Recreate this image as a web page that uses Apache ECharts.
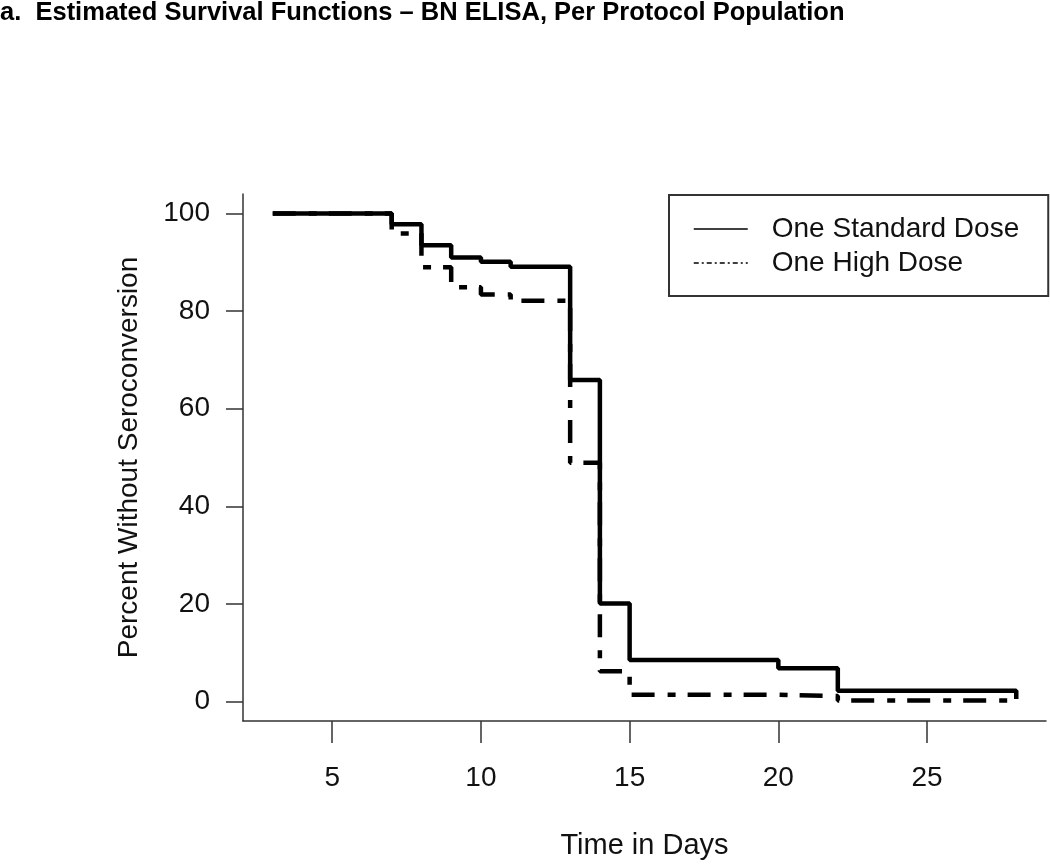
<!DOCTYPE html>
<html><head><meta charset="utf-8">
<script src="https://cdn.jsdelivr.net/npm/echarts@6/dist/echarts.min.js"></script>
<style>html,body{margin:0;padding:0;background:#fff}#c{width:1050px;height:865px}</style>
</head><body><div id="c"></div>
<script>
const titleText = 'a.  Estimated Survival Functions \u2013 BN ELISA, Per Protocol Population';
const seriesNames = ['One Standard Dose', 'One High Dose'];
const standardTimes = [3, 7, 8, 9, 10, 11, 13, 14, 15, 20, 22, 28];
const standardSurvival = [100, 97.8, 93.5, 91.0, 90.1, 89.1, 65.9, 20.1, 8.5, 6.8, 2.2, 0.5];
const highTimes = [3, 7, 8, 9, 10, 11, 13, 14, 15, 20, 22, 28];
const highSurvival = [100, 95.9, 89.0, 84.9, 83.4, 82.1, 48.9, 6.2, 1.4, 1.1, 0.2, 0.2];
const xTicks = [5, 10, 15, 20, 25];
const yTicks = [0, 20, 40, 60, 80, 100];

const pair = (xs, ys) => xs.map((x, i) => [x, ys[i]]);
const chart = echarts.init(document.getElementById('c'), null, {renderer: 'canvas'});
const font = "'Liberation Sans', Arial, sans-serif";
chart.setOption({
  animation: false,
  backgroundColor: '#fff',
  title: {
    text: titleText, left: 0, top: 0, padding: 0,
    textStyle: {fontFamily: font, fontSize: 25.5, fontWeight: 'bold', color: '#000'}
  },
  legend: {
    orient: 'vertical', left: 669, top: 195,
    padding: [20, 29, 19, 24],
    borderColor: '#333', borderWidth: 2, borderRadius: 0,
    itemWidth: 54, itemHeight: 14, itemGap: 6,
    textStyle: {fontFamily: font, fontSize: 28, lineHeight: 28, color: '#111', padding: [0, 0, 0, 19]},
    itemStyle: {opacity: 0, borderWidth: 0},
    lineStyle: {width: 1.5},
    data: [
      {name: seriesNames[0], itemStyle: {opacity: 0}, lineStyle: {width: 1.5, type: 'solid', color: '#000'}},
      {name: seriesNames[1], itemStyle: {opacity: 0}, lineStyle: {width: 1.5, type: [5, 3, 2, 3], color: '#000'}}
    ]
  },
  grid: {left: 243, right: 4, top: 194, bottom: 138, containLabel: false},
  xAxis: {
    type: 'value', min: 2, max: 29,
    name: 'Time in Days', nameLocation: 'middle', nameGap: 110,
    nameTextStyle: {fontFamily: font, fontSize: 29, color: '#111'},
    axisLine: {show: true, onZero: false, lineStyle: {color: '#333', width: 1.5}},
    axisTick: {show: true, inside: false, length: 22, customValues: xTicks, lineStyle: {color: '#333', width: 1.5}},
    axisLabel: {show: true, customValues: xTicks, margin: 43, fontFamily: font, fontSize: 28, color: '#111'},
    splitLine: {show: false}
  },
  yAxis: {
    type: 'value', min: -4, max: 104,
    name: 'Percent Without Seroconversion', nameLocation: 'middle', nameGap: 100, nameRotate: 90,
    nameTextStyle: {fontFamily: font, fontSize: 28, color: '#111'},
    axisLine: {show: true, onZero: false, lineStyle: {color: '#333', width: 1.5}},
    axisTick: {show: true, inside: false, length: 17, customValues: yTicks, lineStyle: {color: '#333', width: 1.5}},
    axisLabel: {show: true, customValues: yTicks, margin: 33, fontFamily: font, fontSize: 28, color: '#111'},
    splitLine: {show: false}
  },
  series: [
    {
      name: seriesNames[0], type: 'line', step: 'end', showSymbol: false, symbol: 'none', z: 3,
      data: pair(standardTimes, standardSurvival),
      lineStyle: {color: '#000', width: 4.5, type: 'solid', cap: 'butt'},
      itemStyle: {color: '#000'}
    },
    {
      name: seriesNames[1], type: 'line', step: 'end', showSymbol: false, symbol: 'none', z: 2,
      data: pair(highTimes, highSurvival),
      lineStyle: {color: '#000', width: 4.5, type: [23, 13, 8, 12], cap: 'butt'},
      itemStyle: {color: '#000'}
    }
  ]
});
</script></body></html>
